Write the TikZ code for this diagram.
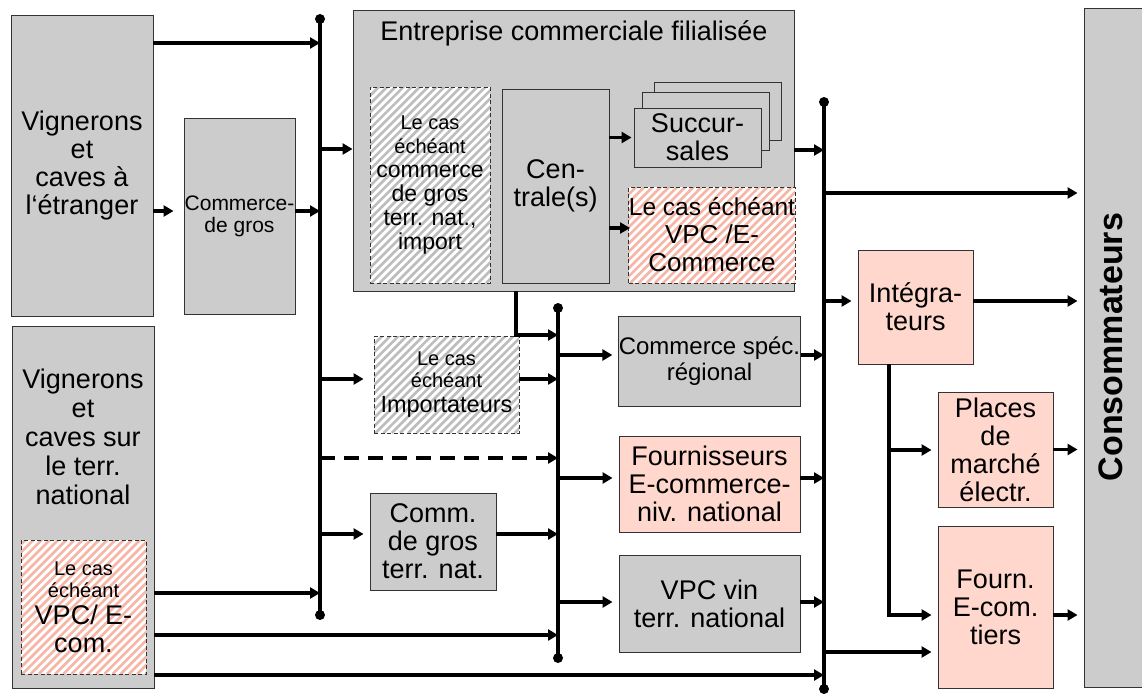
\documentclass[tikz,border=0pt]{standalone}
\usepackage{fontspec}
\setmainfont{Liberation Sans}
\usetikzlibrary{arrows.meta}
\definecolor{greyfill}{HTML}{CCCCCC}
\definecolor{pinkfill}{HTML}{FFD7CD}
\definecolor{hatchpink}{HTML}{F7B5A5}
\definecolor{hatchgrey}{HTML}{BDBDBD}
\definecolor{edgecol}{HTML}{333333}
\newcommand\fbig{\fontsize{27}{28}\selectfont}
\newcommand\fsm{\fontsize{20}{23}\selectfont}
\newcommand\bx[7]{\node[#6, minimum width={(#4-#2)*1pt}, minimum height={(#5-#3)*1pt}] (#1) at ({(#2+#4)/2},{(#3+#5)/2}) {#7};}
\begin{document}
\begin{tikzpicture}[x=1pt,y=-1pt,
  box/.style={draw=edgecol, line width=0.9pt, fill=greyfill, inner sep=0pt, align=center, font=\fbig},
  pinkbox/.style={box, fill=pinkfill},
  hatchbase/.style={draw=edgecol, line width=0.9pt, dash pattern=on 4pt off 2.5pt, fill=white, inner sep=0pt, align=center, font=\fbig},
  stripes/.style={path picture={\foreach \k in {-220,-211.8,...,220} {\draw[#1, solid, line width=2.6pt] ([xshift=\k pt]path picture bounding box.south west) -- ++(420pt,420pt);}}},
  hatchg/.style={hatchbase, stripes=hatchgrey},
  hatchp/.style={hatchbase, stripes=hatchpink},
  arr/.style={line width=3.5pt, -{Triangle[length=10pt,width=11pt]}},
  gap/.style={shorten >=6pt},
  bus/.style={line width=3.5pt},
  dashconn/.style={dash pattern=on 15pt off 9pt}
]
\useasboundingbox (0,0) rectangle (1142,693);

% ---------- boxes ----------
\bx{VE}{11}{15}{153}{316}{box}{Vignerons\\et\\caves à\\l‘étranger}
\bx{CdG}{184}{118}{295}{314}{box,font=\fontsize{21}{22}\selectfont}{Commerce-\\de gros}
\bx{EC}{353}{10}{794}{291}{box}{}
\node[font=\fbig] (ECt) at (574,33) {Entreprise commerciale filialisée};
\bx{ECin}{370}{87}{490}{283}{hatchg,font=\fontsize{23}{24}\selectfont}{{\fsm Le cas}\\{\fsm échéant}\\commerce\\de gros\\terr. nat.,\\import}
\bx{Cent}{502}{89}{609}{283}{box}{Cen-\\trale(s)}
\bx{S3}{654}{82}{781}{140}{box}{}
\bx{S2}{642}{92}{769}{150}{box}{}
\bx{S1}{634}{108}{761}{167}{box}{Succur-\\sales}
\bx{V1}{634}{187}{790}{283}{hatchp,font=\fontsize{26}{28}\selectfont}{{\fontsize{24.5}{26}\selectfont Le cas échéant}\\VPC /E-\\Commerce}
\bx{Cons}{1084}{8}{1150}{687}{box}{}
\node[rotate=90, font=\fontsize{34}{36}\selectfont\bfseries] (ConsT) at (1111,347) {Consommateurs};
\bx{Integ}{858}{250}{973}{364}{pinkbox}{Intégra-\\teurs}
\bx{Places}{938}{392}{1053}{507}{pinkbox}{Places\\de\\marché\\électr.}
\bx{FT}{938}{526}{1053}{688}{pinkbox}{Fourn.\\E-com.\\tiers}
\bx{VN}{12}{326}{154}{688}{box}{}
\node[align=center, font=\fontsize{27}{29}\selectfont] (VNt) at (83,437) {Vignerons\\et\\caves sur\\le terr.\\national};
\bx{VNin}{21}{540}{146}{674}{hatchp}{{\fsm Le cas}\\[-6pt]{\fsm échéant}\\[-1pt]VPC/ E-\\com.}
\bx{Imp}{374}{336}{519}{433}{hatchg,font=\fontsize{23.5}{25}\selectfont}{{\fsm Le cas}\\[-3pt]{\fsm échéant}\\Importateurs}
\bx{CS}{619}{316}{800}{406}{box,font=\fontsize{24}{26}\selectfont}{Commerce spéc.\\régional}
\bx{Fourn}{619}{436}{800}{532}{pinkbox}{Fournisseurs\\E-commerce-\\niv. national}
\bx{CG}{370}{493}{496}{590}{box}{Comm.\\de gros\\terr. nat.}
\bx{VV}{619}{555}{800}{652}{box}{VPC vin\\terr. national}

% ---------- bus coordinates ----------
\coordinate (b1t) at (320,19);  \coordinate (b1b) at (320,615);
\coordinate (b3t) at (558,308); \coordinate (b3b) at (558,658);
\coordinate (b2t) at (824,102); \coordinate (b2b) at (824,689);
\foreach \y in {43,149,211,379,458,534,593} {\coordinate (b1y\y) at (320,\y);}
\foreach \y in {335,355,379,458,478,534,602,635} {\coordinate (b3y\y) at (558,\y);}
\foreach \y in {150,193,301,355,478,602,652,675} {\coordinate (b2y\y) at (824,\y);}
\coordinate (iy450) at (889,450);
\coordinate (iy615) at (889,615);
\coordinate (ecd) at (516,335);
\coordinate (v1in) at (634,228);

\draw[bus] (b1t) -- (b1b);
\draw[bus] (b3t) -- (b3b);
\draw[bus] (b2t) -- (b2b);
\foreach \p in {b1t,b1b,b3t,b3b,b2t,b2b} {\fill (\p) circle (5pt);}

% ---------- connectors ----------
\draw[arr] (VE.east |- b1y43) -- (b1y43);
\draw[arr,shorten >=10pt] (VE.east |- b1y211) -- (CdG.west |- b1y211);
\draw[arr] (CdG.east |- b1y211) -- (b1y211);
\draw[arr] (b1y149) -- (EC.west |- b1y149);
\draw[arr,shorten >=2pt] (Cent.east |- S1.west) -- (S1.west);
\draw[arr,shorten >=4pt] (Cent.east |- v1in) -- (v1in);
\draw[arr] (EC.east |- b2y150) -- (b2y150);
\draw[arr,gap] (b2y193) -- (Cons.west |- b2y193);
\draw[arr,gap] (b2y301) -- (Integ.west |- b2y301);
\draw[arr,gap] (Integ.east |- b2y301) -- (Cons.west |- b2y301);
\draw[arr] (CS.east |- b2y355) -- (b2y355);
\draw[arr,gap] (Integ.south -| iy615) -- (iy615) -- (FT.west |- iy615);
\draw[arr,gap] (iy450) -- (Places.west |- iy450);
\draw[arr,gap] (Places.east) -- (Cons.west |- Places.east);
\draw[arr,gap] (FT.east |- iy615) -- (Cons.west |- iy615);
\draw[arr,gap] (b2y652) -- (FT.west |- b2y652);
\draw[arr] (EC.south -| ecd) -- (ecd) -- (b3y335);
\draw[arr,shorten >=10pt] (b1y379) -- (Imp.west |- b1y379);
\draw[arr] (Imp.east |- b3y379) -- (b3y379);
\draw[arr,gap] (b3y355) -- (CS.west |- b3y355);
\draw[arr,dashconn] (b1y458) -- (b3y458);
\draw[arr,gap] (b3y478) -- (Fourn.west |- b3y478);
\draw[arr] (Fourn.east |- b2y478) -- (b2y478);
\draw[arr,gap] (b1y534) -- (CG.west |- b1y534);
\draw[arr] (CG.east |- b3y534) -- (b3y534);
\draw[arr,gap] (b3y602) -- (VV.west |- b3y602);
\draw[arr] (VV.east |- b2y602) -- (b2y602);
\draw[arr] (VN.east |- b1y593) -- (b1y593);
\draw[arr] (VN.east |- b3y635) -- (b3y635);
\draw[arr] (VN.east |- b2y675) -- (b2y675);
\end{tikzpicture}
\end{document}
